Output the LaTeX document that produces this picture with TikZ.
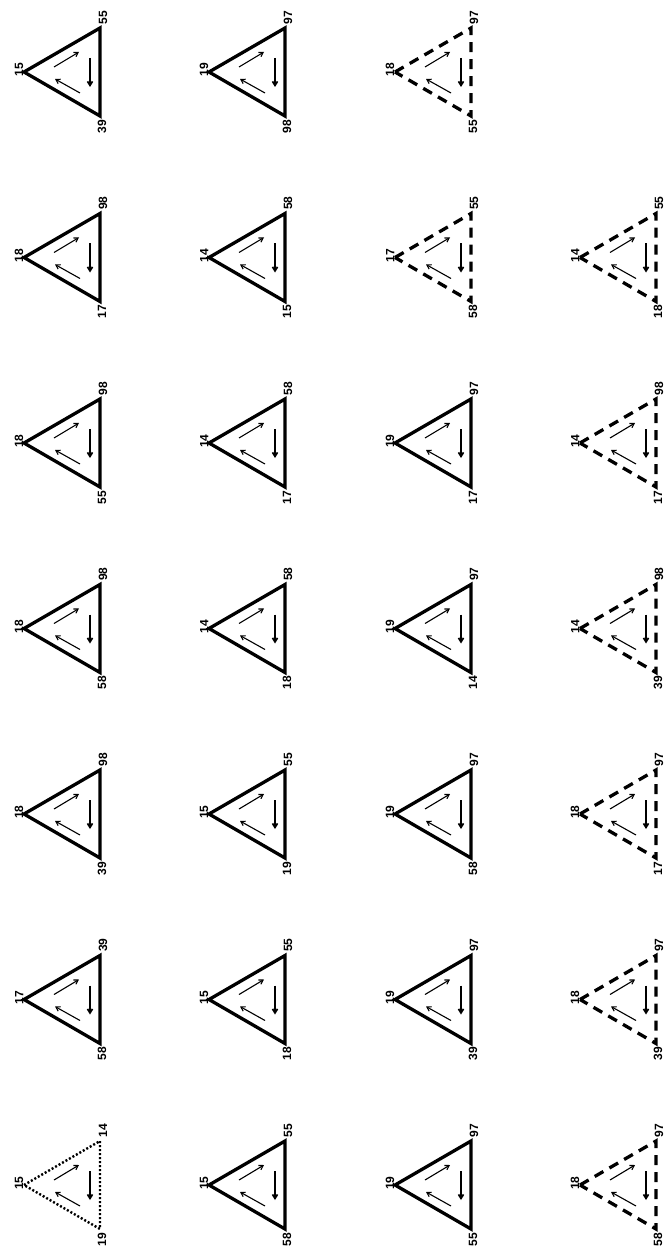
\documentclass[tikz,border=0pt]{standalone}
\usepackage{fontspec}
\setmainfont{Liberation Sans}
\usetikzlibrary{arrows.meta}
\tikzset{
  solidtri/.style={line width=3.3pt, line join=miter},
  dashtri/.style={line width=3.3pt, dash pattern=on 10pt off 7pt},
  dottri/.style={line width=2.4pt, dash pattern=on 2pt off 2pt},
  flow/.style={line width=1.1pt, -{Straight Barb[length=4pt,width=5pt]}},
  flowbase/.style={line width=1.7pt, -{Straight Barb[length=4pt,width=5pt]}},
  lbl/.style={rotate=90, inner sep=0.5pt, font=\bfseries\fontsize{12}{12}\selectfont},
}
\newcommand\mytri[7]{% name, apex x, apex y, style, apex label, top label, bottom label
  \coordinate (#1a) at (#2,#3);
  \coordinate (#1t) at (#2+76,#3-44);
  \coordinate (#1b) at (#2+76,#3+44);
  \draw[#4] (#1a) -- (#1t) -- (#1b) -- cycle;
  \coordinate (#1u0) at (#2+30,#3-5);
  \coordinate (#1u1) at (#2+55,#3-20);
  \coordinate (#1l0) at (#2+56,#3+21);
  \coordinate (#1l1) at (#2+31,#3+7);
  \coordinate (#1s0) at (#2+66,#3-14);
  \coordinate (#1s1) at (#2+66,#3+15);
  \draw[flow] (#1u0) -- (#1u1);
  \draw[flow] (#1l0) -- (#1l1);
  \draw[flowbase] (#1s0) -- (#1s1);
  \node[lbl, anchor=south] (#1la) at (#2,#3-2) {#5};
  \node[lbl, anchor=west] (#1lt) at (#2+79,#3-47) {#6};
  \node[lbl, anchor=east] (#1lb) at (#2+78,#3+47) {#7};
}
\begin{document}
\begin{tikzpicture}[x=1pt,y=-1pt]
\fill[white] (0,0) rectangle (665,1257);
\useasboundingbox (0,0) rectangle (665,1257);
% row 1
\mytri{r1c1}{24}{72}{solidtri}{15}{55}{39}
\mytri{r1c2}{209}{72}{solidtri}{19}{97}{98}
\mytri{r1c3}{395}{72}{dashtri}{18}{97}{55}
% row 2
\mytri{r2c1}{24}{257.5}{solidtri}{18}{98}{17}
\mytri{r2c2}{209}{257.5}{solidtri}{14}{58}{15}
\mytri{r2c3}{395}{257.5}{dashtri}{17}{55}{58}
\mytri{r2c4}{580}{257.5}{dashtri}{14}{55}{18}
% row 3
\mytri{r3c1}{24}{443}{solidtri}{18}{98}{55}
\mytri{r3c2}{209}{443}{solidtri}{14}{58}{17}
\mytri{r3c3}{395}{443}{solidtri}{19}{97}{17}
\mytri{r3c4}{580}{443}{dashtri}{14}{98}{17}
% row 4
\mytri{r4c1}{24}{628.5}{solidtri}{18}{98}{58}
\mytri{r4c2}{209}{628.5}{solidtri}{14}{58}{18}
\mytri{r4c3}{395}{628.5}{solidtri}{19}{97}{14}
\mytri{r4c4}{580}{628.5}{dashtri}{14}{98}{39}
% row 5
\mytri{r5c1}{24}{814}{solidtri}{18}{98}{39}
\mytri{r5c2}{209}{814}{solidtri}{15}{55}{19}
\mytri{r5c3}{395}{814}{solidtri}{19}{97}{58}
\mytri{r5c4}{580}{814}{dashtri}{18}{97}{17}
% row 6
\mytri{r6c1}{24}{999.5}{solidtri}{17}{39}{58}
\mytri{r6c2}{209}{999.5}{solidtri}{15}{55}{18}
\mytri{r6c3}{395}{999.5}{solidtri}{19}{97}{39}
\mytri{r6c4}{580}{999.5}{dashtri}{18}{97}{39}
% row 7
\mytri{r7c1}{24}{1185}{dottri}{15}{14}{19}
\mytri{r7c2}{209}{1185}{solidtri}{15}{55}{58}
\mytri{r7c3}{395}{1185}{solidtri}{19}{97}{55}
\mytri{r7c4}{580}{1185}{dashtri}{18}{97}{58}
\end{tikzpicture}
\end{document}
